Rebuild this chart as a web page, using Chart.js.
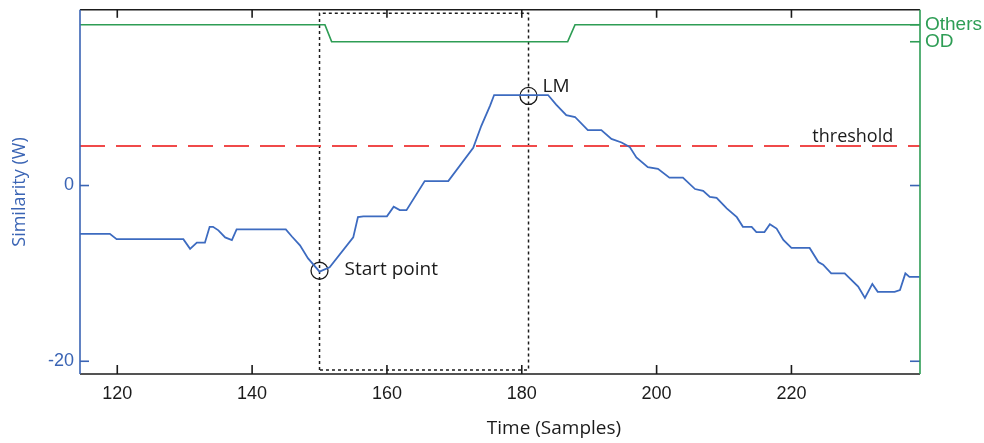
<!DOCTYPE html>
<html>
<head>
<meta charset="utf-8">
<script src="https://cdn.jsdelivr.net/npm/chart.js@4/dist/chart.umd.min.js"></script>
<style>
  html, body { margin: 0; padding: 0; background: #fff; }
  canvas { display: block; }
</style>
</head>
<body>
<canvas id="c" width="984" height="443"></canvas>
<script>
// Similarity W over time (samples)
const simX = [114.5, 118.9, 119.9, 129.8, 130.8, 131.8, 133.0, 133.7, 134.2, 135.0, 136.0, 137.0, 137.7,
  145.0, 145.9, 147.1, 148.3, 150.0, 151.5, 155.0, 155.7, 156.5, 160.0, 161.0, 161.9, 162.9, 165.6,
  169.1, 172.8, 174.0, 175.3, 175.9, 183.9, 185.1, 186.6, 187.9, 189.8, 191.8, 193.3, 194.8, 196.0,
  197.0, 198.7, 200.2, 201.9, 203.9, 205.7, 206.9, 207.9, 208.9, 210.4, 211.9, 212.8, 214.1, 214.8,
  216.0, 216.8, 217.8, 218.8, 220.0, 222.7, 224.0, 224.7, 225.9, 227.9, 229.9, 230.9, 232.0, 232.8,
  235.3, 236.1, 236.9, 237.5, 239.0];
const simY = [-5.5, -5.5, -6.1, -6.1, -7.2, -6.5, -6.5, -4.7, -4.7, -5.1, -5.9, -6.2, -5.0,
  -5.0, -5.8, -6.8, -8.3, -9.8, -9.3, -5.9, -3.6, -3.5, -3.5, -2.4, -2.8, -2.8, 0.5,
  0.5, 4.3, 6.8, 9.1, 10.3, 10.3, 9.2, 8.0, 7.8, 6.3, 6.3, 5.3, 4.9, 4.4,
  3.2, 2.1, 1.9, 0.9, 0.9, -0.4, -0.6, -1.3, -1.4, -2.6, -3.6, -4.7, -4.7, -5.3,
  -5.3, -4.4, -4.9, -6.2, -7.1, -7.1, -8.7, -9.0, -10.0, -10.0, -11.5, -12.8, -11.2, -12.1,
  -12.1, -11.9, -10.0, -10.4, -10.4];

// Detected mode: 1 = Others, 0 = OD
const modeX = [114.5, 150.8, 151.8, 186.8, 187.9, 239.0];
const modeY = [1, 1, 0, 0, 1, 1];
const modeLabels = ['OD', 'Others'];

const threshold = 4.5;
const startPoint = { x: 150, y: -9.7 };
const localMax = { x: 181, y: 10.2 };
const windowX = [150, 181];
const windowY = [-21, 19.6];

const xTicks = [120, 140, 160, 180, 200, 220];
const yTicks = [-20, 0];
const xRange = [114.47, 239.07];
const yRange = [-21.45, 20];
const modeRange = [-19.55, 1.88];

const BLUE = '#3d6bc0';
const AXIS_BLUE = '#3a64b4';
const GREEN = '#2e9d55';
const RED = '#f04a4a';
const INK = '#1b1b1b';
const TICK_FONT = '"Liberation Sans", sans-serif';
const TEXT_FONT = '"Open Sans", sans-serif';

const pts = (xs, ys) => xs.map((x, i) => ({ x, y: ys[i] }));

// Axis frame, inward ticks, titles and notes
const framePlugin = {
  id: 'frame',
  afterDraw(chart) {
    const { ctx, chartArea: a, scales: { x, y, y1 } } = chart;
    const seg = (x0, y0, x1, y1_) => { ctx.beginPath(); ctx.moveTo(x0, y0); ctx.lineTo(x1, y1_); ctx.stroke(); };
    ctx.save();
    ctx.lineWidth = 1.6;

    ctx.strokeStyle = INK;
    seg(a.left, a.top, a.right, a.top);
    seg(a.left, a.bottom, a.right, a.bottom);
    xTicks.forEach(v => {
      const px = x.getPixelForValue(v);
      seg(px, a.bottom, px, a.bottom - 9);
      seg(px, a.top, px, a.top + 8);
    });

    ctx.strokeStyle = AXIS_BLUE;
    yTicks.forEach(v => {
      const py = y.getPixelForValue(v);
      seg(a.left, py, a.left + 9, py);
      seg(a.right - 10, py, a.right, py);
    });
    seg(a.left, a.top, a.left, a.bottom);

    ctx.strokeStyle = GREEN;
    [0, 1].forEach(v => {
      const py = y1.getPixelForValue(v);
      seg(a.right - 10, py, a.right, py);
    });
    seg(a.right, a.top, a.right, a.bottom);

    // axis titles
    ctx.fillStyle = INK;
    ctx.font = '19px ' + TEXT_FONT;
    ctx.textAlign = 'center';
    ctx.textBaseline = 'middle';
    ctx.fillText('Time (Samples)', 554, 429);

    ctx.save();
    ctx.translate(20, 192);
    ctx.rotate(-Math.PI / 2);
    ctx.fillStyle = AXIS_BLUE;
    ctx.font = '18px ' + TEXT_FONT;
    ctx.fillText('Similarity (W)', 0, 0);
    ctx.restore();

    // notes
    ctx.fillStyle = INK;
    ctx.textAlign = 'left';
    ctx.font = '19px ' + TEXT_FONT;
    ctx.fillText('Start point', x.getPixelForValue(startPoint.x) + 25, y.getPixelForValue(startPoint.y) - 1);
    ctx.fillText('LM', x.getPixelForValue(localMax.x) + 14, y.getPixelForValue(localMax.y) - 9);
    ctx.font = '18px ' + TEXT_FONT;
    ctx.textBaseline = 'alphabetic';
    ctx.fillText('threshold', x.getPixelForValue(223.1), y.getPixelForValue(threshold) - 4);
    ctx.restore();
  }
};

// vertical axes keep no extra room for their end labels
const noEdgePadding = s => { s.paddingTop = 0; s.paddingBottom = 0; };

function build() {
  new Chart(document.getElementById('c'), {
    type: 'line',
    data: {
      datasets: [
        {
          data: pts(simX, simY),
          borderColor: BLUE, borderWidth: 1.8, pointRadius: 0, tension: 0, yAxisID: 'y'
        },
        {
          data: [{ x: xRange[0], y: threshold }, { x: xRange[1], y: threshold }],
          borderColor: RED, borderWidth: 1.9, borderDash: [25, 11], pointRadius: 0, yAxisID: 'y'
        },
        {
          data: pts(modeX, modeY),
          borderColor: GREEN, borderWidth: 1.7, pointRadius: 0, tension: 0, yAxisID: 'y1'
        },
        {
          data: [
            { x: windowX[0], y: windowY[0] }, { x: windowX[0], y: windowY[1] },
            { x: windowX[1], y: windowY[1] }, { x: windowX[1], y: windowY[0] },
            { x: windowX[0], y: windowY[0] }
          ],
          borderColor: INK, borderWidth: 1.5, borderDash: [3, 3], pointRadius: 0, yAxisID: 'y'
        },
        {
          data: [startPoint, localMax],
          showLine: false, pointStyle: 'circle', pointRadius: 8.5,
          pointBackgroundColor: 'rgba(0,0,0,0)', pointBorderColor: INK, pointBorderWidth: 1.3,
          yAxisID: 'y'
        }
      ]
    },
    options: {
      responsive: false,
      animation: false,
      layout: { padding: { top: 9, left: 0, right: 0, bottom: 0 } },
      plugins: { legend: { display: false }, tooltip: { enabled: false } },
      scales: {
        x: {
          type: 'linear', position: 'bottom', min: xRange[0], max: xRange[1],
          grid: { display: false, drawTicks: false }, border: { display: false },
          afterBuildTicks: s => { s.ticks = xTicks.map(v => ({ value: v })); },
          afterFit: s => { s.height = 69; s.paddingLeft = 0; s.paddingRight = 0; },
          ticks: { padding: 9, color: INK, font: { family: TICK_FONT, size: 18 }, maxRotation: 0, autoSkip: false }
        },
        y: {
          type: 'linear', position: 'left', min: yRange[0], max: yRange[1],
          grid: { display: false, drawTicks: false }, border: { display: false },
          afterBuildTicks: s => { s.ticks = yTicks.map(v => ({ value: v })); },
          afterFit: s => { s.width = 80; noEdgePadding(s); },
          ticks: { padding: 6, color: AXIS_BLUE, font: { family: TICK_FONT, size: 18 } }
        },
        y1: {
          type: 'linear', position: 'right', min: modeRange[0], max: modeRange[1],
          grid: { display: false, drawTicks: false }, border: { display: false },
          afterBuildTicks: s => { s.ticks = [0, 1].map(v => ({ value: v })); },
          afterFit: s => { s.width = 64; noEdgePadding(s); },
          ticks: {
            padding: 5, color: GREEN, font: { family: TICK_FONT, size: 19 },
            callback: v => modeLabels[v]
          }
        }
      }
    },
    plugins: [framePlugin]
  });
}

Promise.all([
  document.fonts.load('19px "Liberation Sans"'),
  document.fonts.load('19px "Open Sans"')
]).then(build, build);
</script>
</body>
</html>
